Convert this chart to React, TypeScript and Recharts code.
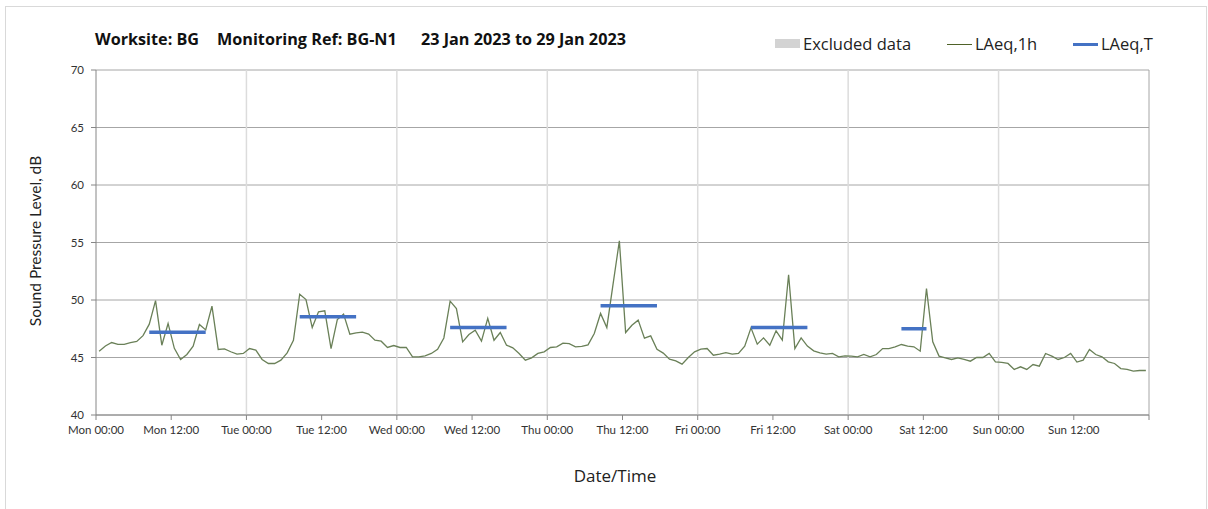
import { LineChart, Line, XAxis, YAxis, CartesianGrid, ReferenceLine } from 'recharts'

// hourly LAeq,1h values (dB), one array per day, 00:00..23:00
const mon = [45.55, 46.0, 46.3, 46.15, 46.15, 46.3, 46.4, 46.9, 47.9, 49.95, 46.07, 47.96, 45.8, 44.83, 45.26, 45.99, 47.87, 47.4, 49.46, 45.7, 45.75, 45.5, 45.3, 45.35]
const tue = [45.78, 45.64, 44.83, 44.48, 44.48, 44.77, 45.4, 46.5, 50.5, 50.04, 47.6, 48.97, 49.06, 45.78, 48.3, 48.77, 47.03, 47.14, 47.2, 47.03, 46.5, 46.42, 45.87, 46.04]
const wed = [45.87, 45.87, 45.06, 45.06, 45.14, 45.35, 45.72, 46.7, 49.9, 49.26, 46.36, 47.0, 47.38, 46.42, 48.4, 46.5, 47.17, 46.07, 45.84, 45.35, 44.77, 44.97, 45.35, 45.49]
const thu = [45.87, 45.93, 46.25, 46.2, 45.93, 45.96, 46.1, 47.09, 48.83, 47.6, 51.4, 55.14, 47.17, 47.8, 48.25, 46.68, 46.88, 45.72, 45.38, 44.86, 44.71, 44.42, 45.0, 45.49]
const fri = [45.72, 45.78, 45.2, 45.29, 45.43, 45.29, 45.35, 45.99, 47.58, 46.16, 46.71, 46.07, 47.32, 46.51, 52.2, 45.78, 46.71, 45.99, 45.58, 45.41, 45.29, 45.35, 45.06, 45.14]
const sat = [45.12, 45.06, 45.26, 45.06, 45.26, 45.78, 45.78, 45.93, 46.13, 45.99, 45.93, 45.55, 51.0, 46.36, 45.12, 44.97, 44.83, 44.97, 44.83, 44.68, 45.0, 45.0, 45.35, 44.62]
const sun = [44.57, 44.48, 43.96, 44.19, 43.96, 44.39, 44.25, 45.35, 45.12, 44.83, 45.0, 45.35, 44.6, 44.77, 45.7, 45.26, 45.06, 44.62, 44.48, 44.04, 43.96, 43.81, 43.87, 43.87]

// working period LAeq,T per day (Mon..Sat), hours covered
const laeqT = [47.2, 48.55, 47.6, 49.5, 47.6, 47.5]
const periodStart = [8, 8, 8, 8, 8, 8]
const periodEnd = [17, 17, 17, 17, 17, 12]

const xTickLabels = ['Mon 00:00', 'Mon 12:00', 'Tue 00:00', 'Tue 12:00', 'Wed 00:00', 'Wed 12:00', 'Thu 00:00', 'Thu 12:00', 'Fri 00:00', 'Fri 12:00', 'Sat 00:00', 'Sat 12:00', 'Sun 00:00', 'Sun 12:00']
const yTicks = [40, 45, 50, 55, 60, 65, 70]

const days = [mon, tue, wed, thu, fri, sat, sun]
const data = days.flatMap((day, d) =>
  day.map((v, h) => {
    const inPeriod = d < laeqT.length && h >= periodStart[d] && h <= periodEnd[d]
    return { t: d * 24 + h + 0.5, h1: v, T: inPeriod ? laeqT[d] : null }
  })
)

const font = 'Lato, "Open Sans", sans-serif'
const wide = '"Open Sans", Lato, sans-serif'

const abs = (left: number, top: number) => ({ position: 'absolute' as const, left, top, whiteSpace: 'pre' as const })

export default function App() {
  return (
    <div style={{ position: 'absolute', left: 0, top: 0, width: 1208, height: 509, background: '#fff', fontFamily: font }}>
      <div style={{ position: 'absolute', left: 5, top: 6, width: 1200, height: 520, border: '1px solid #d9d9d9' }} />

      <div style={{ fontFamily: wide, fontSize: 16.2, fontWeight: 700, color: '#111', lineHeight: '20px' }}>
        <span style={abs(95, 29)}>Worksite: BG</span>
        <span style={abs(217, 29)}>Monitoring Ref: BG-N1</span>
        <span style={abs(421, 29)}>23 Jan 2023 to 29 Jan 2023</span>
      </div>

      <div style={{ fontFamily: wide, fontSize: 16.5, color: '#222', lineHeight: '20px' }}>
        <span style={{ ...abs(775, 39), width: 25, height: 9, background: '#d3d3d3' }} />
        <span style={abs(803, 34)}>Excluded data</span>
        <span style={{ ...abs(947, 44), width: 25, height: 1, background: '#4F6228' }} />
        <span style={abs(975, 34)}>LAeq,1h</span>
        <span style={{ ...abs(1073, 43), width: 25, height: 3, background: '#4472C4' }} />
        <span style={abs(1101, 34)}>LAeq,T</span>
      </div>

      <div style={{ position: 'absolute', left: 35, top: 241, transform: 'translate(-50%, -50%) rotate(-90deg)', fontSize: 15.5, color: '#222', whiteSpace: 'nowrap', lineHeight: '20px' }}>
        Sound Pressure Level, dB
      </div>
      <div style={{ position: 'absolute', left: 615, top: 476, transform: 'translate(-50%, -50%)', fontFamily: wide, fontSize: 17, color: '#222', lineHeight: '20px' }}>
        Date/Time
      </div>

      <div style={{ position: 'absolute', left: 0, top: 0 }}>
        <LineChart width={1208} height={509} data={data} margin={{ top: 70, right: 59, bottom: 64, left: 56 }}>
          <CartesianGrid vertical={false} stroke="#a6a6a6" />
          {[24, 48, 72, 96, 120, 144].map(x => (
            <ReferenceLine key={x} x={x} stroke="#dcdcdc" strokeWidth={1.5} />
          ))}
          <ReferenceLine x={168} stroke="#a6a6a6" />
          <XAxis
            dataKey="t"
            type="number"
            domain={[0, 168]}
            ticks={[...xTickLabels.map((_, i) => i * 12), 168]}
            tickFormatter={(v: number) => xTickLabels[v / 12] ?? ''}
            height={30}
            tickSize={5}
            tickMargin={6}
            stroke="#868686"
            tick={{ fontSize: 11.5, fill: '#333', fontFamily: font }}
            interval={0}
          />
          <YAxis
            domain={[40, 70]}
            ticks={yTicks}
            width={40}
            tickSize={5}
            tickMargin={7}
            stroke="#868686"
            tick={{ fontSize: 11.5, fill: '#333', fontFamily: font }}
            interval={0}
          />
          <Line type="linear" dataKey="h1" stroke="#6a8058" strokeWidth={1.3} dot={false} isAnimationActive={false} />
          <Line type="linear" dataKey="T" stroke="#4472C4" strokeWidth={3.5} dot={false} connectNulls={false} isAnimationActive={false} />
        </LineChart>
      </div>
    </div>
  )
}
